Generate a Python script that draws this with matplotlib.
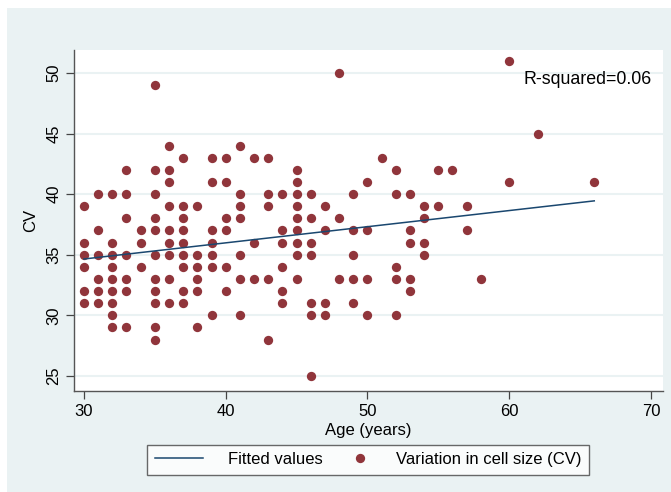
import numpy as np
import matplotlib
matplotlib.use("Agg")
import matplotlib.pyplot as plt
from matplotlib.patches import Rectangle
from matplotlib.lines import Line2D
from matplotlib.legend_handler import HandlerLine2D

plt.rcParams['font.family'] = ['Liberation Sans', 'DejaVu Sans']

# CV value -> ages of the subjects with that CV
cv_by_age = {
    51: [60],
    50: [48],
    49: [35],
    45: [62],
    44: [36, 41],
    43: [37, 39, 40, 42, 43, 51],
    42: [33, 35, 36, 45, 52, 55, 56],
    41: [36, 39, 40, 45, 50, 60, 66],
    40: [31, 32, 33, 35, 41, 43, 44, 45, 46, 49, 52, 53],
    39: [30, 36, 37, 38, 41, 43, 45, 47, 54, 55, 57],
    38: [33, 35, 37, 40, 41, 45, 46, 48, 54],
    37: [31, 34, 35, 36, 37, 39, 40, 44, 45, 47, 49, 50, 53, 57],
    36: [30, 32, 34, 36, 37, 39, 42, 44, 45, 46, 53, 54],
    35: [30, 31, 32, 33, 35, 36, 37, 38, 39, 41, 45, 46, 49, 54],
    34: [30, 32, 34, 37, 38, 39, 40, 44, 52],
    33: [31, 32, 33, 35, 36, 38, 41, 42, 43, 45, 48, 49, 50, 52, 53, 58],
    32: [30, 31, 32, 33, 35, 37, 38, 40, 44, 53],
    31: [30, 31, 32, 35, 36, 37, 44, 46, 47, 49],
    30: [32, 39, 41, 46, 47, 50, 52],
    29: [32, 33, 35, 38],
    28: [35, 43],
    25: [46],
}
age = np.array([a for cv, ages in cv_by_age.items() for a in ages], dtype=float)
cv = np.array([cv for cv, ages in cv_by_age.items() for a in ages], dtype=float)

x_ticks = [30, 40, 50, 60, 70]
y_ticks = [25, 30, 35, 40, 45, 50]
r2_label = "R-squared=0.06"

# linear fit
slope, intercept = np.polyfit(age, cv, 1)
fit_x = np.array([age.min(), age.max()])
fit_y = slope * fit_x + intercept

bg = '#eaf2f3'
dot = '#90353b'
navy = '#1a476f'


class DotHandler(HandlerLine2D):
    # squeeze the marker handle into the right part of the handle box
    def create_artists(self, legend, orig_handle, xdescent, ydescent, width, height, fontsize, trans):
        w2 = width * 0.46
        return super().create_artists(legend, orig_handle, xdescent - (width - w2), ydescent,
                                      w2, height, fontsize, trans)


fig = plt.figure(figsize=(6.71, 4.92), dpi=100, facecolor='white')
fig.patches.append(Rectangle((7 / 671, 0), 1, 1 - 8 / 492, transform=fig.transFigure,
                             facecolor=bg, edgecolor='none', zorder=-10))

ax = fig.add_axes([74 / 671, 1 - 391 / 492, (663 - 74) / 671, (391 - 50) / 492])
ax.set_facecolor('white')

ax.scatter(age, cv, s=45, color=dot, linewidths=0, zorder=3)
fit_line, = ax.plot(fit_x, fit_y, color=navy, lw=1.1, zorder=4)

ax.set_xlim(29.3, 70.85)
ax.set_ylim(23.75, 51.9)
ax.set_xticks(x_ticks)
ax.set_yticks(y_ticks)
ax.tick_params(axis='both', direction='out', length=6, width=0.9, color='#444444',
               labelsize=12, pad=3)
for lab in ax.get_yticklabels():
    lab.set_rotation(90)
    lab.set_va('center')

ax.grid(axis='y', color=bg, lw=1.5, zorder=0)
ax.set_axisbelow(True)
for side in ['top', 'right']:
    ax.spines[side].set_visible(False)
for side in ['left', 'bottom']:
    ax.spines[side].set_color('#555555')
    ax.spines[side].set_linewidth(1.0)

ax.set_xlabel('Age (years)', fontsize=12, labelpad=3)
ax.set_ylabel('CV', fontsize=12, labelpad=6)

ax.text(70.05, 49.5, r2_label, ha='right', va='center', fontsize=12.8)

dot_proxy = Line2D([], [], ls='none', marker='o', markersize=6.7, markerfacecolor=dot,
                   markeredgewidth=0)
leg = fig.legend([fit_line, dot_proxy], ['Fitted values', 'Variation in cell size (CV)'],
                 loc='center', bbox_to_anchor=(368 / 671, 1 - 459.5 / 492),
                 ncol=2, frameon=True, fancybox=False, fontsize=12, handlelength=2.9,
                 columnspacing=0.0, handletextpad=1.5, borderpad=0.45,
                 handler_map={dot_proxy: DotHandler(numpoints=1)})
leg.get_frame().set_edgecolor('#444444')
leg.get_frame().set_linewidth(1.0)

fig.savefig('out.png', dpi=100, facecolor=fig.get_facecolor())
